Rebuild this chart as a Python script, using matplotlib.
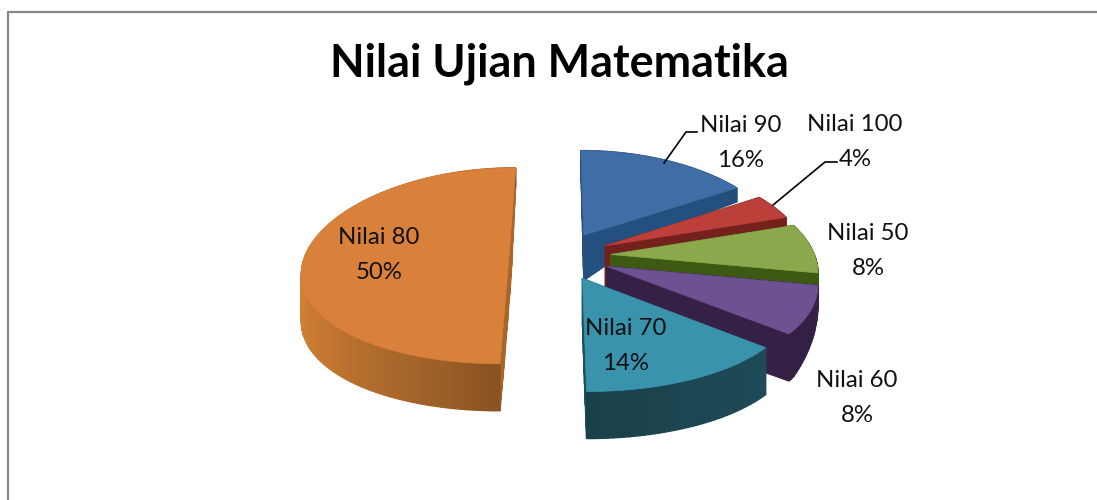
#!/usr/bin/env python3
import numpy as np
from matplotlib import pyplot as plt
from matplotlib.colors import to_rgb

plt.rcParams["font.family"] = ["Lato", "DejaVu Sans"]

TITLE = "Nilai Ujian Matematika"
names = ["Nilai 90", "Nilai 100", "Nilai 50", "Nilai 60", "Nilai 70", "Nilai 80"]
values = [16, 4, 8, 8, 14, 50]
top_colors = ["#3f6ea6", "#bd3f39", "#8ba84c", "#6e5193", "#3a93ad", "#d9803a"]
side_colors = ["#23507e", "#74201c", "#3e5a12", "#352146", "#1f4e5b", "#a8662a"]
label_pos = [(741, 143), (855, 142), (868, 251), (857, 398), (626, 346), (379, 255)]

# projection of the pie plane onto the picture, in pixels
CX, CY = 560, 256
RX, RY = 204, 97
PERSP_X, PERSP_Y = 0.15, 0.1
EXPLODE = 0.25


def project(u, v):
    return CX + RX * u / (1 + PERSP_X * v), CY - RY * v / (1 + PERSP_Y * v)


def thickness(u, v):
    # the depth shrinks strongly towards the back right of the original
    return np.interp(v + np.maximum(u, 0), [0.3, 0.9, 1.7], [47, 20, 14])


def shade(color, f):
    return tuple(min(1, c * f) for c in to_rgb(color))


def draw_wall(ax, u, v, colors):
    x, y = project(u, v)
    h = thickness(u, v)
    for i in range(len(x) - 1):
        ax.fill(
            [x[i], x[i + 1], x[i + 1], x[i]],
            [y[i], y[i + 1], y[i + 1] + h[i + 1], y[i] + h[i]],
            color=colors[i],
            lw=1.0,
        )


fig = plt.figure(figsize=(10.97, 5), dpi=100)
ax = fig.add_axes([0, 0, 1, 1])
ax.set_xlim(0, 1097)
ax.set_ylim(500, 0)
ax.axis("off")

ax.plot([8, 8, 1097], [500, 12, 12], color="#868686", lw=1.6)

ends = 90 - 3.6 * np.cumsum(values)
starts = ends + 3.6 * np.array(values)

# back to front, clockwise from the top
for i in range(len(values)):
    a0, a1 = np.radians(starts[i]), np.radians(ends[i])
    mid = (a0 + a1) / 2
    du, dv = EXPLODE * np.cos(mid), EXPLODE * np.sin(mid)
    t = np.linspace(a0, a1, max(8, int(values[i] * 3)))
    u = np.cos(t) + du
    v = np.sin(t) + dv

    # the two cut faces
    for k in (0, -1):
        fu = np.linspace(du, u[k], 12)
        fv = np.linspace(dv, v[k], 12)
        draw_wall(ax, fu, fv, [side_colors[i]] * 11)

    # outer wall, lighter where it faces the left
    f = np.interp(np.cos(t[:-1]), [-1, 0.0, 1], [1.25, 0.82, 1.0])
    draw_wall(ax, u, v, [shade(side_colors[i], g) for g in f])

    x, y = project(np.r_[du, u], np.r_[dv, v])
    ax.fill(x, y, color=top_colors[i], lw=0.5)

# leader lines of the two small labels at the top
ax.plot([664, 686, 697], [163, 132, 132], color="black", lw=1.2)
ax.plot([773, 825, 837], [205, 162, 162], color="black", lw=1.2)

total = sum(values)
for name, val, (lx, ly) in zip(names, values, label_pos):
    ax.text(
        lx, ly, f"{name}\n{round(100 * val / total)}%",
        ha="center", va="center", fontsize=17.3, color="#111111", linespacing=1.8,
    )

ax.text(559, 63.5, TITLE, ha="center", va="center", fontsize=32.4, fontweight="bold", color="black")

fig.savefig("out.png", dpi=100)
